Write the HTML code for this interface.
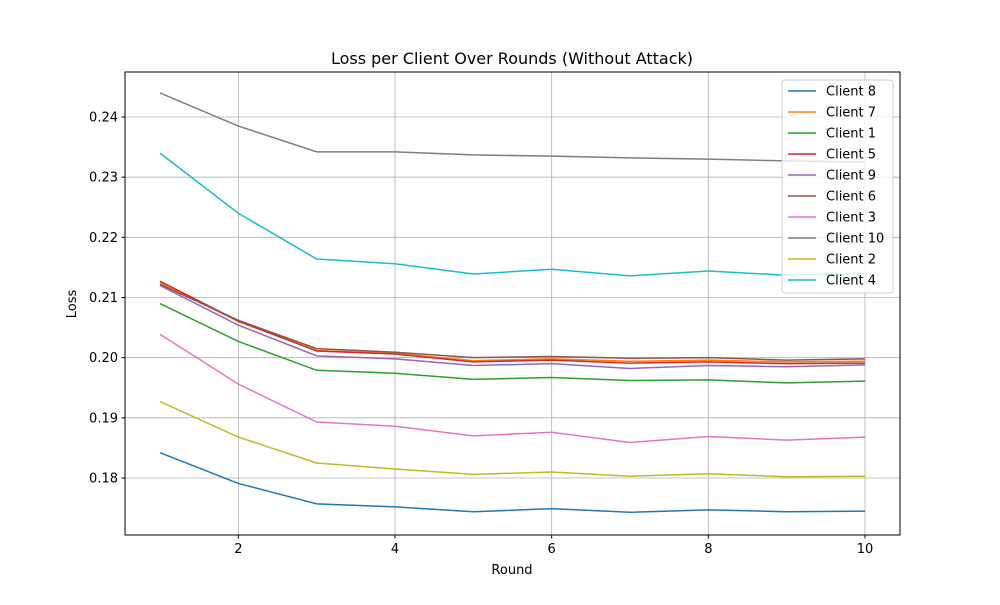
<!DOCTYPE html>
<html><head><meta charset="utf-8"><style>
body{margin:0;background:#fff}
svg text{font-family:"DejaVu Sans","Liberation Sans",sans-serif;fill:#000}
</style></head><body>
<svg id="chart" width="1000" height="600" xmlns="http://www.w3.org/2000/svg">
<rect width="1000" height="600" fill="#fff"/>
<g id="grid"></g>
<g id="lines"></g>
<rect x="125" y="72" width="775" height="463" fill="none" stroke="#000" stroke-width="1"/>
<g id="ticks"></g>
<text x="512" y="64" font-size="16" text-anchor="middle">Loss per Client Over Rounds (Without Attack)</text>
<text x="512" y="574" font-size="13" text-anchor="middle">Round</text>
<text x="76" y="304" font-size="13" text-anchor="middle" transform="rotate(-90 76 304)">Loss</text>
<g id="legend"></g>
</svg>
<script>
const rounds=[1,2,3,4,5,6,7,8,9,10];
const seriesNames=["Client 8","Client 7","Client 1","Client 5","Client 9","Client 6","Client 3","Client 10","Client 2","Client 4"];
const seriesColors=["#1f77b4","#ff7f0e","#2ca02c","#d62728","#9467bd","#8c564b","#e377c2","#7f7f7f","#bcbd22","#17becf"];
const client8=[0.1842,0.1791,0.1757,0.1752,0.1744,0.1749,0.1743,0.1747,0.1744,0.1745];
const client7=[0.2125,0.2060,0.2012,0.2007,0.1995,0.1998,0.1994,0.1996,0.1993,0.1994];
const client1=[0.2090,0.2027,0.1979,0.1974,0.1964,0.1967,0.1962,0.1963,0.1958,0.1961];
const client5=[0.2127,0.2061,0.2011,0.2006,0.1993,0.1996,0.1991,0.1993,0.1990,0.1991];
const client9=[0.2120,0.2054,0.2003,0.1998,0.1987,0.1990,0.1982,0.1987,0.1985,0.1988];
const client6=[0.2122,0.2062,0.2015,0.2009,0.2000,0.2002,0.1999,0.2000,0.1996,0.1998];
const client3=[0.2039,0.1956,0.1893,0.1886,0.1870,0.1876,0.1859,0.1869,0.1863,0.1868];
const client10=[0.2440,0.2385,0.2342,0.2342,0.2337,0.2335,0.2332,0.2330,0.2327,0.2325];
const client2=[0.1927,0.1868,0.1825,0.1815,0.1806,0.1810,0.1803,0.1807,0.1802,0.1803];
const client4=[0.2340,0.2240,0.2164,0.2156,0.2139,0.2147,0.2136,0.2144,0.2137,0.2140];
const xTicks=[2,4,6,8,10];
const yTicks=[0.18,0.19,0.20,0.21,0.22,0.23,0.24];
const allSeries=[client8,client7,client1,client5,client9,client6,client3,client10,client2,client4];
const NS="http://www.w3.org/2000/svg";
const X=r=>160+(r-1)*(865-160)/9;
const Y=v=>478-(v-0.18)*(478-117)/0.06;
function mk(tag,attrs,parent){const e=document.createElementNS(NS,tag);for(const k in attrs)e.setAttribute(k,attrs[k]);parent.appendChild(e);return e;}
const grid=document.getElementById('grid'),ticks=document.getElementById('ticks'),lines=document.getElementById('lines'),legend=document.getElementById('legend');
xTicks.forEach(t=>{
  const g=mk('line',{x1:X(t),x2:X(t),y1:72,y2:535,stroke:'#b0b0b0','stroke-width':0.8},grid);
  
  const tk=mk('line',{x1:X(t),x2:X(t),y1:535,y2:538.5,stroke:'#000'},ticks);
  
  const tx=mk('text',{x:X(t),y:553,'font-size':13,'text-anchor':'middle'},ticks);tx.textContent=t;
  
});
yTicks.forEach(t=>{
  const g=mk('line',{x1:125,x2:900,y1:Y(t),y2:Y(t),stroke:'#b0b0b0','stroke-width':0.8},grid);
  
  const tk=mk('line',{x1:121.5,x2:125,y1:Y(t),y2:Y(t),stroke:'#000'},ticks);
  
  const tx=mk('text',{x:118,y:Y(t)+4.5,'font-size':13,'text-anchor':'end'},ticks);tx.textContent=t.toFixed(2);
  
});
allSeries.forEach((s,i)=>{
  const p=mk('polyline',{points:s.map((v,j)=>X(rounds[j])+','+Y(v)).join(' '),fill:'none',stroke:seriesColors[i],'stroke-width':1.5},lines);
  
  
});
const lb=mk('rect',{x:782,y:80,width:111,height:213,rx:3,fill:'#fff','fill-opacity':0.8,stroke:'#ccc'},legend);

seriesNames.forEach((n,i)=>{
  const y=91+i*21;
  const l=mk('line',{x1:788,x2:816,y1:y,y2:y,stroke:seriesColors[i],'stroke-width':1.5},legend);
  
  const t=mk('text',{x:826,y:y+4.5,'font-size':13},legend);t.textContent=n;
  
});
</script>
</body></html>
